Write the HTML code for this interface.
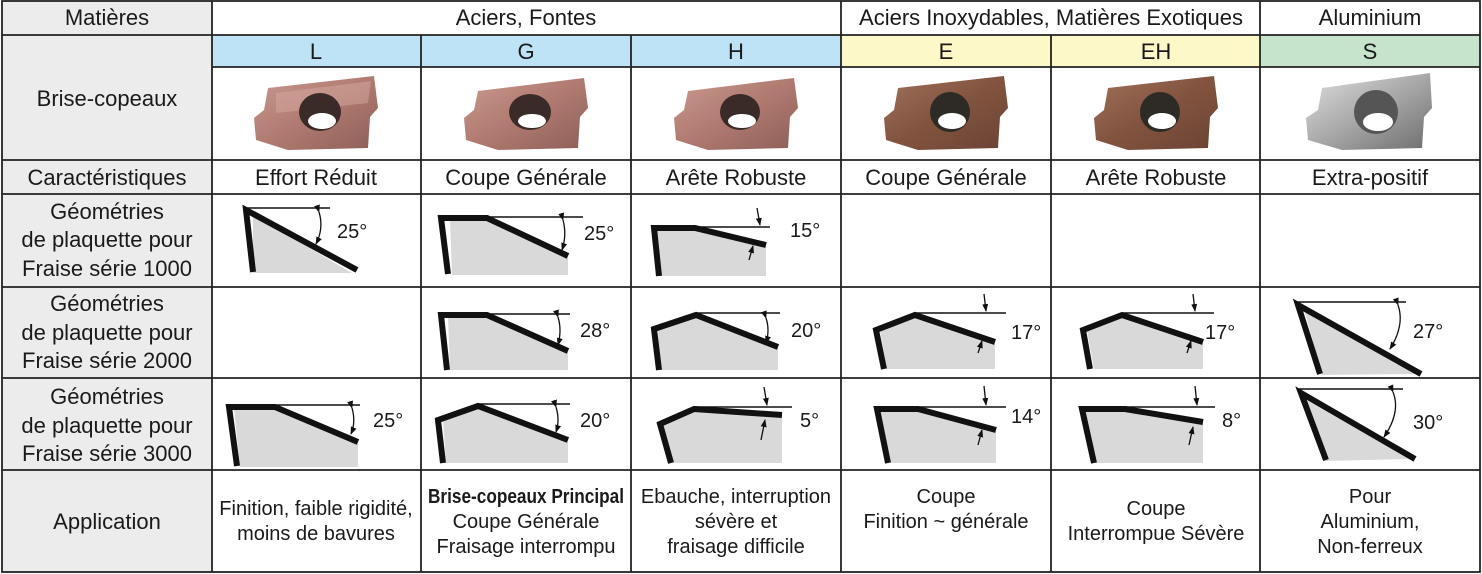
<!DOCTYPE html>
<html><head><meta charset="utf-8"><style>
html,body{margin:0;padding:0;background:#fff}
svg{display:block}
text{font-family:"Liberation Sans",Arial,sans-serif;font-size:22px;fill:#1a1a1a}
text.ap{font-size:20px}
text.dg{font-size:20px}
</style></head><body>
<svg width="1482" height="574" viewBox="0 0 1482 574" xmlns="http://www.w3.org/2000/svg">
<defs>
<marker id="ah" markerWidth="8" markerHeight="8" refX="7" refY="4" orient="auto" markerUnits="userSpaceOnUse"><path d="M0,1 L8,4 L0,7 Z" fill="#111"/></marker>
<linearGradient id="cu" x1="0" y1="0" x2="1" y2="1"><stop offset="0" stop-color="#c99a90"/><stop offset="0.5" stop-color="#b07a70"/><stop offset="1" stop-color="#8d5f58"/></linearGradient>
<linearGradient id="br" x1="0" y1="0" x2="1" y2="1"><stop offset="0" stop-color="#a0705a"/><stop offset="0.5" stop-color="#82543f"/><stop offset="1" stop-color="#6a4233"/></linearGradient>
<linearGradient id="ag" x1="0" y1="0" x2="1" y2="1"><stop offset="0" stop-color="#e0e0e0"/><stop offset="0.5" stop-color="#a8a8a8"/><stop offset="1" stop-color="#6d6d6d"/></linearGradient>
</defs>
<rect x="2" y="1" width="210" height="571" fill="#ececec"/>
<rect x="212" y="35" width="629" height="32" fill="#bfe3f6"/>
<rect x="841" y="35" width="419" height="32" fill="#fdf8c8"/>
<rect x="1260" y="35" width="220" height="32" fill="#c6e3cc"/>
<g stroke="#222" stroke-width="1.8" fill="none">
<rect x="2" y="1" width="1478" height="571"/>
<line x1="2" y1="35" x2="1480" y2="35"/>
<line x1="212" y1="67" x2="1480" y2="67"/>
<line x1="2" y1="160" x2="1480" y2="160"/>
<line x1="2" y1="194" x2="1480" y2="194"/>
<line x1="2" y1="287" x2="1480" y2="287"/>
<line x1="2" y1="378" x2="1480" y2="378"/>
<line x1="2" y1="470" x2="1480" y2="470"/>
<line x1="212" y1="1" x2="212" y2="572"/>
<line x1="841" y1="1" x2="841" y2="572"/>
<line x1="1260" y1="1" x2="1260" y2="572"/>
<line x1="421" y1="35" x2="421" y2="572"/>
<line x1="631" y1="35" x2="631" y2="572"/>
<line x1="1051" y1="35" x2="1051" y2="572"/>
</g>
<g text-anchor="middle">
<text x="107" y="25">Matières</text>
<text x="526" y="25">Aciers, Fontes</text>
<text x="1051" y="25">Aciers Inoxydables, Matières Exotiques</text>
<text x="1370" y="25">Aluminium</text>
<text x="316" y="59">L</text><text x="526" y="59">G</text><text x="736" y="59">H</text>
<text x="946" y="59">E</text><text x="1156" y="59">EH</text><text x="1370" y="59">S</text>
<text x="107" y="106">Brise-copeaux</text>
<text x="107" y="185">Caractéristiques</text>
<text x="316" y="185">Effort Réduit</text>
<text x="526" y="185">Coupe Générale</text>
<text x="736" y="185">Arête Robuste</text>
<text x="946" y="185">Coupe Générale</text>
<text x="1156" y="185">Arête Robuste</text>
<text x="1370" y="185">Extra-positif</text>
<text x="107" y="219">Géométries</text><text x="107" y="247">de plaquette pour</text><text x="107" y="276">Fraise série 1000</text>
<text x="107" y="311">Géométries</text><text x="107" y="340">de plaquette pour</text><text x="107" y="368">Fraise série 2000</text>
<text x="107" y="404">Géométries</text><text x="107" y="433">de plaquette pour</text><text x="107" y="461">Fraise série 3000</text>
<text x="107" y="529">Application</text>
<text class="ap" x="316" y="515">Finition, faible rigidité,</text><text class="ap" x="316" y="540">moins de bavures</text>
<text class="ap" x="526" y="503" style="font-weight:bold" textLength="196" lengthAdjust="spacingAndGlyphs">Brise-copeaux Principal</text><text class="ap" x="526" y="528">Coupe Générale</text><text class="ap" x="526" y="553">Fraisage interrompu</text>
<text class="ap" x="736" y="503">Ebauche, interruption</text><text class="ap" x="736" y="528">sévère et</text><text class="ap" x="736" y="553">fraisage difficile</text>
<text class="ap" x="946" y="503">Coupe</text><text class="ap" x="946" y="528">Finition ~ générale</text>
<text class="ap" x="1156" y="515">Coupe</text><text class="ap" x="1156" y="540">Interrompue Sévère</text>
<text class="ap" x="1370" y="503">Pour</text><text class="ap" x="1370" y="528">Aluminium,</text><text class="ap" x="1370" y="553">Non-ferreux</text>
</g>
<g transform="translate(316,113)">
<path d="M-48,-25 L58,-37 L62,-5 L54,4 L52,35 L-28,37 L-60,27 L-62,5 L-52,-3 Z" fill="url(#cu)"/>
<path d="M-40,-20 L55,-32 L52,-10 L-40,0 Z" fill="#d6aaa0" opacity="0.5"/>
<ellipse cx="4" cy="-1" rx="21" ry="19" fill="#3a2a28"/>
<ellipse cx="6" cy="8" rx="14" ry="8" fill="#fff"/>
</g>
<g transform="translate(526,113)">
<path d="M-48,-22 L58,-35 L62,-5 L54,4 L52,35 L-28,37 L-60,27 L-62,5 L-52,-3 Z" fill="url(#cu)"/>
<ellipse cx="4" cy="-1" rx="21" ry="18" fill="#3a2a28"/>
<ellipse cx="6" cy="8" rx="14" ry="7" fill="#fff"/>
</g>
<g transform="translate(736,113)">
<path d="M-48,-22 L58,-35 L62,-5 L54,4 L52,35 L-28,37 L-60,27 L-62,5 L-52,-3 Z" fill="url(#cu)"/>
<ellipse cx="4" cy="-1" rx="20" ry="18" fill="#3a2a28"/>
<ellipse cx="6" cy="8" rx="14" ry="7" fill="#fff"/>
</g>
<g transform="translate(946,113)">
<path d="M-48,-25 L58,-37 L62,-5 L54,4 L52,35 L-28,37 L-60,27 L-62,5 L-52,-3 Z" fill="url(#br)"/>
<ellipse cx="4" cy="-1" rx="20" ry="20" fill="#2e2a26"/>
<ellipse cx="6" cy="8" rx="14" ry="8" fill="#fff"/>
</g>
<g transform="translate(1156,113)">
<path d="M-48,-25 L58,-37 L62,-5 L54,4 L52,35 L-28,37 L-60,27 L-62,5 L-52,-3 Z" fill="url(#br)"/>
<ellipse cx="4" cy="-1" rx="20" ry="20" fill="#2e2a26"/>
<ellipse cx="6" cy="8" rx="14" ry="8" fill="#fff"/>
</g>
<g transform="translate(1370,113)">
<path d="M-48,-25 L60,-40 L62,-5 L54,4 L52,35 L-28,37 L-62,27 L-64,5 L-52,-3 Z" fill="url(#ag)"/>
<ellipse cx="6" cy="-1" rx="22" ry="22" fill="#555"/>
<ellipse cx="8" cy="9" rx="15" ry="9" fill="#fff"/>
</g>
<g fill="#d9d9d9" stroke="none">
<polygon points="253,215 253,273 352,273"/>
<polygon points="450,220 487,220 568,258 568,275 452,275"/>
<polygon points="656,230 695,230 766,247 766,276 660,276"/>
<polygon points="448,317 487,317 568,352 568,370 450,370"/>
<polygon points="658,330 696,316 778,348 778,370 660,370"/>
<polygon points="880,331 915,316 995,344 995,369 887,369"/>
<polygon points="1087,331 1122,316 1203,344 1203,369 1094,369"/>
<polygon points="1305,312 1415,374 1322,375"/>
<polygon points="234,408 275,408 358,444 358,467 240,467"/>
<polygon points="443,420 478,408 568,442 568,463 446,463"/>
<polygon points="663,424 694,410 782,418 782,463 672,463"/>
<polygon points="880,410 918,410 996,432 996,463 890,463"/>
<polygon points="1085,410 1125,410 1203,424 1203,463 1095,463"/>
<polygon points="1306,400 1410,459 1325,461"/>
</g>
<g fill="none" stroke="#111" stroke-width="6" stroke-linejoin="miter">
<polyline points="253,272 246,210 357,270"/>
<polyline points="448,274 441,218 487,218 568,256"/>
<polyline points="659,276 654,228 695,228 766,245"/>
<polyline points="447,370 441,315 487,315 568,351"/>
<polyline points="659,370 654,329 696,315 778,347"/>
<polyline points="884,369 876,330 915,315 995,342"/>
<polyline points="1090,369 1083,330 1122,315 1203,342"/>
<polyline points="1320,374 1298,305 1421,374"/>
<polyline points="237,466 229,407 275,407 358,442"/>
<polyline points="443,463 438,420 478,406 568,440"/>
<polyline points="671,463 660,424 694,409 782,415"/>
<polyline points="888,463 877,409 918,409 996,430"/>
<polyline points="1094,463 1082,409 1125,409 1203,422"/>
<polyline points="1326,460 1301,393 1415,459"/>
</g>
<g stroke="#111" stroke-width="1.6" fill="none">
<line x1="245" y1="208" x2="330" y2="208"/>
<line x1="487" y1="217" x2="583" y2="217"/>
<line x1="695" y1="227" x2="770" y2="227"/>
<line x1="487" y1="314" x2="570" y2="314"/>
<line x1="696" y1="313" x2="780" y2="313"/>
<line x1="915" y1="313" x2="1006" y2="313"/>
<line x1="1122" y1="313" x2="1214" y2="313"/>
<line x1="1294" y1="302" x2="1406" y2="302"/>
<line x1="275" y1="405" x2="360" y2="405"/>
<line x1="478" y1="404" x2="570" y2="404"/>
<line x1="694" y1="407" x2="792" y2="407"/>
<line x1="918" y1="407" x2="1006" y2="407"/>
<line x1="1125" y1="407" x2="1215" y2="407"/>
<line x1="1297" y1="389" x2="1403" y2="389"/>
</g>
<g stroke="#111" stroke-width="1.3" fill="none">
<path d="M319,212 Q324,228 316,244" marker-start="url(#ah)" marker-end="url(#ah)"/>
<path d="M563,220 Q567,235 562,250" marker-start="url(#ah)" marker-end="url(#ah)"/>
<path d="M766,318 Q770,330 766,343" marker-start="url(#ah)" marker-end="url(#ah)"/>
<path d="M558,317 Q562,330 558,345" marker-start="url(#ah)" marker-end="url(#ah)"/>
<path d="M1398,305 Q1405,325 1390,349" marker-start="url(#ah)" marker-end="url(#ah)"/>
<path d="M352,408 Q356,422 351,434" marker-start="url(#ah)" marker-end="url(#ah)"/>
<path d="M556,407 Q560,420 556,432" marker-start="url(#ah)" marker-end="url(#ah)"/>
<path d="M1393,392 Q1401,412 1384,437" marker-start="url(#ah)" marker-end="url(#ah)"/>
<path d="M757,208 L760,225" marker-end="url(#ah)"/><path d="M749,260 L753,246" marker-end="url(#ah)"/>
<path d="M984,294 L986,311" marker-end="url(#ah)"/><path d="M978,353 L982,341" marker-end="url(#ah)"/>
<path d="M1193,294 L1195,311" marker-end="url(#ah)"/><path d="M1187,353 L1191,341" marker-end="url(#ah)"/>
<path d="M764,387 L767,405" marker-end="url(#ah)"/><path d="M761,440 L765,420" marker-end="url(#ah)"/>
<path d="M984,386 L986,405" marker-end="url(#ah)"/><path d="M978,445 L982,430" marker-end="url(#ah)"/>
<path d="M1195,386 L1197,405" marker-end="url(#ah)"/><path d="M1189,445 L1193,427" marker-end="url(#ah)"/>
</g>
<text class="dg" x="337" y="238">25°</text>
<text class="dg" x="584" y="240">25°</text>
<text class="dg" x="790" y="237">15°</text>
<text class="dg" x="580" y="337">28°</text>
<text class="dg" x="791" y="337">20°</text>
<text class="dg" x="1011" y="339">17°</text>
<text class="dg" x="1205" y="339">17°</text>
<text class="dg" x="1413" y="338">27°</text>
<text class="dg" x="373" y="427">25°</text>
<text class="dg" x="580" y="427">20°</text>
<text class="dg" x="800" y="427">5°</text>
<text class="dg" x="1011" y="423">14°</text>
<text class="dg" x="1222" y="427">8°</text>
<text class="dg" x="1413" y="429">30°</text>
</svg>
</body></html>
